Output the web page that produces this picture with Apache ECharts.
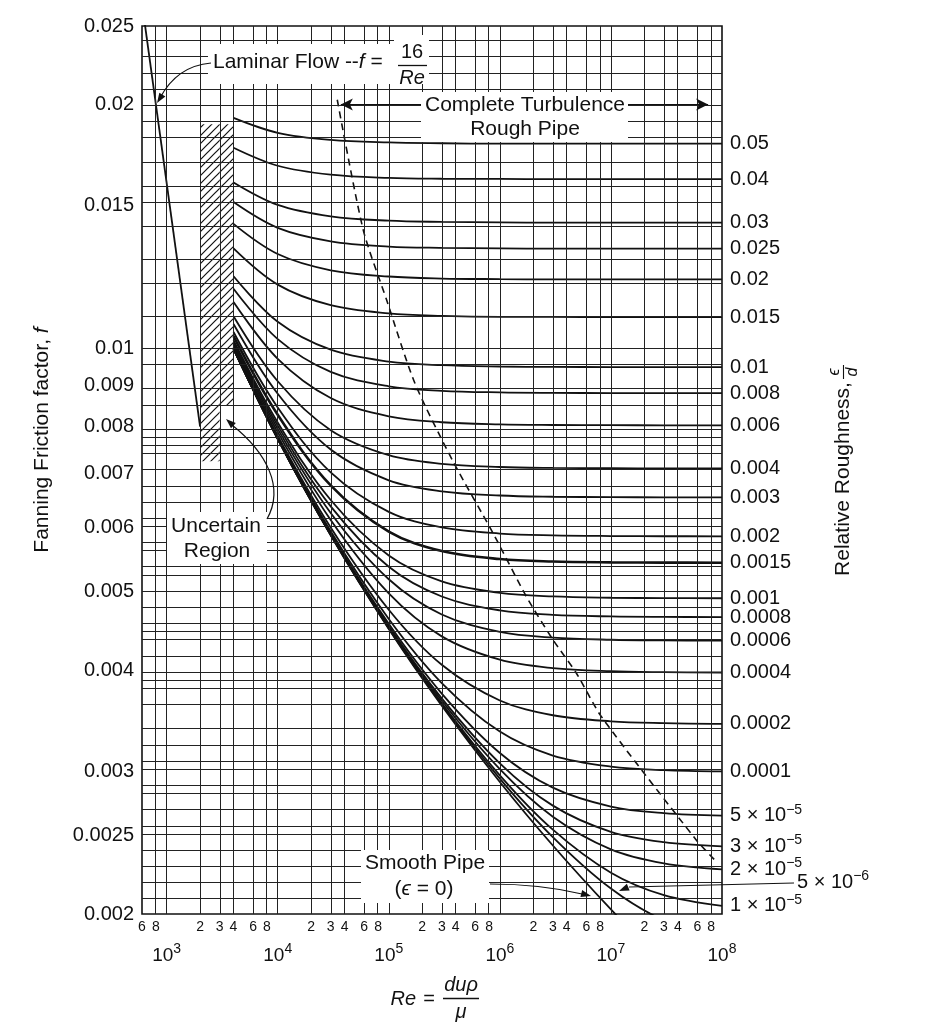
<!DOCTYPE html>
<html>
<head>
<meta charset="utf-8">
<script src="https://cdn.jsdelivr.net/npm/echarts@6.0.0/dist/echarts.min.js"></script>
<style>
html,body{margin:0;padding:0;background:#ffffff;}
#chart{width:941px;height:1024px;}
</style>
</head>
<body>
<div id="chart"></div>
<script>
// ================= DATA =================
// Reynolds numbers at which every roughness curve was read
const reGrid = [4e3, 1e4, 3e4, 1e5, 3e5, 1e6, 3e6, 1e7, 3e7, 1e8];

// Fanning friction factor for each relative roughness (same order as reGrid)
const f_0_05   = [0.01925, 0.01845, 0.01808, 0.01795, 0.01791, 0.01789, 0.01789, 0.01789, 0.01789, 0.01789];
const f_0_04   = [0.01768, 0.01680, 0.01638, 0.01623, 0.01619, 0.01618, 0.01617, 0.01617, 0.01617, 0.01617];
const f_0_03   = [0.01602, 0.01503, 0.01455, 0.01437, 0.01432, 0.01430, 0.01429, 0.01429, 0.01429, 0.01429];
const f_0_025  = [0.01515, 0.01408, 0.01355, 0.01335, 0.01330, 0.01328, 0.01327, 0.01327, 0.01327, 0.01327];
const f_0_02   = [0.01424, 0.01307, 0.01248, 0.01226, 0.01219, 0.01217, 0.01216, 0.01216, 0.01216, 0.01216];
const f_0_015  = [0.01328, 0.01198, 0.01130, 0.01104, 0.01096, 0.01093, 0.01093, 0.01092, 0.01092, 0.01092];
const f_0_01   = [0.01227, 0.01078, 0.009956, 0.009626, 0.009527, 0.009491, 0.009481, 0.009477, 0.009476, 0.009476];
const f_0_008  = [0.01184, 0.01026, 0.009347, 0.008972, 0.008858, 0.008817, 0.008805, 0.008801, 0.008800, 0.008799];
const f_0_006  = [0.01140, 0.009701, 0.008677, 0.008238, 0.008100, 0.008051, 0.008037, 0.008032, 0.008030, 0.008029];
const f_0_004  = [0.01095, 0.009102, 0.007919, 0.007375, 0.007197, 0.007132, 0.007113, 0.007107, 0.007105, 0.007104];
const f_0_003  = [0.01071, 0.008783, 0.007494, 0.006867, 0.006656, 0.006576, 0.006553, 0.006546, 0.006543, 0.006542];
const f_0_002  = [0.01047, 0.008448, 0.007024, 0.006277, 0.006006, 0.005902, 0.005871, 0.005860, 0.005857, 0.005856];
const f_0_0015 = [0.01035, 0.008274, 0.006767, 0.005934, 0.005616, 0.005489, 0.005451, 0.005438, 0.005434, 0.005432];
const f_0_001  = [0.01023, 0.008096, 0.006492, 0.005544, 0.005151, 0.004986, 0.004935, 0.004917, 0.004912, 0.004910];
const f_0_0008 = [0.01018, 0.008022, 0.006376, 0.005369, 0.004934, 0.004744, 0.004683, 0.004662, 0.004656, 0.004654];
const f_0_0006 = [0.01013, 0.007949, 0.006257, 0.005182, 0.004688, 0.004462, 0.004390, 0.004363, 0.004355, 0.004352];
const f_0_0004 = [0.01008, 0.007874, 0.006132, 0.004977, 0.004405, 0.004122, 0.004025, 0.003989, 0.003979, 0.003975];
const f_0_0002 = [0.01003, 0.007797, 0.006004, 0.004752, 0.004063, 0.003671, 0.003520, 0.003460, 0.003442, 0.003435];
const f_0_0001 = [0.01000, 0.007761, 0.005939, 0.004629, 0.003858, 0.003360, 0.003139, 0.003042, 0.003011, 0.003000];
const f_5e_5   = [0.009988, 0.007739, 0.005906, 0.004565, 0.003744, 0.003162, 0.002865, 0.002715, 0.002664, 0.002645];
const f_3e_5   = [0.009985, 0.007734, 0.005890, 0.004537, 0.003693, 0.003070, 0.002722, 0.002526, 0.002453, 0.002424];
const f_2e_5   = [0.009983, 0.007731, 0.005885, 0.004524, 0.003668, 0.003020, 0.002638, 0.002404, 0.002310, 0.002271];
const f_1e_5   = [0.009981, 0.007727, 0.005879, 0.004510, 0.003642, 0.002967, 0.002542, 0.002249, 0.002110, 0.002047];
const f_5e_6   = [0.009980, 0.007724, 0.005875, 0.004504, 0.003629, 0.002940, 0.002489, 0.002150, 0.001964, 0.001868];
const f_smooth = [0.009979, 0.007721, 0.005872, 0.004498, 0.003616, 0.002911, 0.002430, 0.002026, 0.001737, 0.001485];

// right-hand labels (relative roughness), '^' marks a superscript
const roughnessLabels = ['0.05', '0.04', '0.03', '0.025', '0.02', '0.015', '0.01', '0.008', '0.006',
  '0.004', '0.003', '0.002', '0.0015', '0.001', '0.0008', '0.0006', '0.0004', '0.0002', '0.0001',
  '5 × 10^−5', '3 × 10^−5', '2 × 10^−5', '1 × 10^−5', '5 × 10^−6', 'smooth'];
const roughnessCurves = [f_0_05, f_0_04, f_0_03, f_0_025, f_0_02, f_0_015, f_0_01, f_0_008, f_0_006,
  f_0_004, f_0_003, f_0_002, f_0_0015, f_0_001, f_0_0008, f_0_0006, f_0_0004, f_0_0002, f_0_0001,
  f_5e_5, f_3e_5, f_2e_5, f_1e_5, f_5e_6, f_smooth];

// laminar flow line f = 16/Re
const laminarRe = [600, 2000];
const laminarF = [0.02667, 0.008];

// dashed "complete turbulence" boundary
const turbRe = [34370, 58840, 95500, 171600, 379100, 867500, 1731000, 3002000, 4873000, 8177000, 58380000, 88900000];
const turbF  = [0.02027, 0.01400, 0.011476, 0.009055, 0.007245, 0.005910, 0.004935, 0.004364, 0.003970, 0.003509, 0.002471, 0.002321];

// hatched uncertain region
const hatchRe = [2000, 3000, 4000];
const hatchTopF = 0.0189;
const hatchBottomF = [0.00725, 0.0085];

// "complete turbulence" double arrow
const turbArrowRe = [3.7e4, 7.5e7];
const turbArrowF = 0.02;

// axis extents
const reMin = 600, reMax = 1e8;
const fMin = 0.002, fMax = 0.025;

// grid lines
const xGridRe = [800, 1e3, 2e3, 3e3, 4e3, 6e3, 8e3, 1e4, 2e4, 3e4, 4e4, 6e4, 8e4, 1e5, 2e5, 3e5, 4e5, 6e5, 8e5,
  1e6, 2e6, 3e6, 4e6, 6e6, 8e6, 1e7, 2e7, 3e7, 4e7, 6e7, 8e7];
const yGridF = [0.0021, 0.0022, 0.0023, 0.0024, 0.0025, 0.0026, 0.0027, 0.0028, 0.0029, 0.003, 0.0031, 0.0032,
  0.0034, 0.0036, 0.0038, 0.0039, 0.004, 0.0042, 0.0044, 0.0045, 0.0046, 0.0048, 0.005, 0.0052, 0.0054, 0.0056,
  0.0058, 0.006, 0.0062, 0.0065, 0.0068, 0.007, 0.0074, 0.0076, 0.0078, 0.008, 0.0085, 0.009, 0.0095, 0.01,
  0.011, 0.012, 0.013, 0.014, 0.015, 0.016, 0.017, 0.018, 0.019, 0.02, 0.021, 0.022, 0.023, 0.024];

// tick labels
const xMinorRe = [600, 800, 2e3, 3e3, 4e3, 6e3, 8e3, 2e4, 3e4, 4e4, 6e4, 8e4, 2e5, 3e5, 4e5, 6e5, 8e5,
  2e6, 3e6, 4e6, 6e6, 8e6, 2e7, 3e7, 4e7, 6e7, 8e7];
const xMinorText = ['6', '8', '2', '3', '4', '6', '8', '2', '3', '4', '6', '8', '2', '3', '4', '6', '8',
  '2', '3', '4', '6', '8', '2', '3', '4', '6', '8'];
const xMajorRe = [1e3, 1e4, 1e5, 1e6, 1e7, 1e8];
const xMajorExp = ['3', '4', '5', '6', '7', '8'];
const yLabelF = [0.002, 0.0025, 0.003, 0.004, 0.005, 0.006, 0.007, 0.008, 0.009, 0.01, 0.015, 0.02, 0.025];
const yLabelText = ['0.002', '0.0025', '0.003', '0.004', '0.005', '0.006', '0.007', '0.008', '0.009', '0.01', '0.015', '0.02', '0.025'];

// ================= CHART =================
const FONT = '"Liberation Sans", Arial, Helvetica, sans-serif';
const INK = '#111111';
const L = v => Math.log10(v);

function lookup(values, texts, v) {
  for (let i = 0; i < values.length; i++) {
    if (Math.abs(L(values[i]) - v) < 1e-6) return texts[i];
  }
  return '';
}
function fmtSup(s) {
  const k = s.indexOf('^');
  return k < 0 ? s : s.slice(0, k) + '{s|' + s.slice(k + 1) + '}';
}

// hatch pattern
const pc = document.createElement('canvas');
pc.width = 8; pc.height = 8;
const pg = pc.getContext('2d');
pg.strokeStyle = '#111';
pg.lineWidth = 1.2;
pg.beginPath();
pg.moveTo(0, 8); pg.lineTo(8, 0);
pg.moveTo(-2, 2); pg.lineTo(2, -2);
pg.moveTo(6, 10); pg.lineTo(10, 6);
pg.stroke();

const series = [];

// grid lines
series.push({
  type: 'line', name: 'grid', data: [[L(reMin), L(fMin)]], symbol: 'none', silent: true, z: 1,
  lineStyle: { opacity: 0 },
  markLine: {
    silent: true, symbol: ['none', 'none'], animation: false,
    label: { show: false },
    emphasis: { disabled: true },
    lineStyle: { color: '#222222', width: 1, type: 'solid', opacity: 1 },
    data: xGridRe.map(r => ({ xAxis: L(r) })).concat(yGridF.map(f => ({ yAxis: L(f) })))
  }
});

// roughness curves
roughnessCurves.forEach((arr, idx) => {
  const name = roughnessLabels[idx];
  const labelled = idx < 23;
  series.push({
    type: 'line', name: name, z: 3, silent: true,
    data: reGrid.map((r, i) => [L(r), L(arr[i])]),
    smooth: 0.35, symbol: 'none', clip: true,
    lineStyle: { color: INK, width: name === '0.0015' ? 2.6 : 1.8 },
    emphasis: { disabled: true },
    endLabel: {
      show: labelled, distance: 8, color: INK, fontSize: 20, fontFamily: FONT, lineHeight: 26,
      formatter: p => fmtSup(p.seriesName),
      rich: { s: { fontSize: 14, lineHeight: 14, verticalAlign: 'top', fontFamily: FONT, color: INK } }
    }
  });
});

// laminar line + hatched uncertain region
series.push({
  type: 'line', name: 'laminar', z: 3, silent: true, clip: true, symbol: 'none',
  data: laminarRe.map((r, i) => [L(r), L(laminarF[i])]),
  lineStyle: { color: INK, width: 1.8 },
  emphasis: { disabled: true },
  markArea: {
    silent: true, animation: false,
    itemStyle: { color: { image: pc, repeat: 'repeat' }, borderWidth: 0 },
    data: [
      [{ coord: [L(hatchRe[0]), L(hatchTopF)] }, { coord: [L(hatchRe[1]), L(hatchBottomF[0])] }],
      [{ coord: [L(hatchRe[1]), L(hatchTopF)] }, { coord: [L(hatchRe[2]), L(hatchBottomF[1])] }]
    ]
  }
});

// dashed complete-turbulence boundary + double arrow
series.push({
  type: 'line', name: 'turb', z: 3, silent: true, clip: true, symbol: 'none', smooth: 0.25,
  data: turbRe.map((r, i) => [L(r), L(turbF[i])]),
  lineStyle: { color: INK, width: 1.6, type: [7, 5] },
  emphasis: { disabled: true },
  markLine: {
    silent: true, animation: false, symbol: ['arrow', 'arrow'], symbolSize: [9, 12],
    label: { show: false }, emphasis: { disabled: true },
    lineStyle: { color: INK, width: 1.2, type: 'solid' },
    data: [[{ coord: [L(turbArrowRe[0]), L(turbArrowF)] }, { coord: [L(turbArrowRe[1]), L(turbArrowF)] }]]
  }
});

// ================= ANNOTATIONS (graphic) =================
const G = [];
function rect(x, y, w, h) {
  G.push({ type: 'rect', z: 100, silent: true, shape: { x, y, width: w, height: h }, style: { fill: '#ffffff' } });
}
function text(x, y, t, o) {
  o = o || {};
  const al = o.align || 'center';
  const st = {
    text: t, fill: INK,
    font: (o.italic ? 'italic ' : '') + (o.size || 21) + 'px ' + FONT,
    align: al, verticalAlign: 'middle', textAlign: al, textVerticalAlign: 'middle'
  };
  if (o.rich) st.rich = o.rich;
  if (o.lineHeight) st.lineHeight = o.lineHeight;
  return { type: 'text', z: 102, silent: true, x, y, rotation: o.rot || 0, style: st };
}
function seg(x1, y1, x2, y2, w) {
  return { type: 'line', z: 102, silent: true, shape: { x1, y1, x2, y2 }, style: { stroke: INK, lineWidth: w || 1.3 } };
}
function head(tx, ty, fx, fy, len, half) {
  len = len || 10; half = half || 3.6;
  const dx = tx - fx, dy = ty - fy, d = Math.hypot(dx, dy);
  const ux = dx / d, uy = dy / d;
  const bx = tx - ux * len, by = ty - uy * len;
  return { type: 'polygon', z: 103, silent: true,
    shape: { points: [[tx, ty], [bx - uy * half, by + ux * half], [bx + uy * half, by - ux * half]] },
    style: { fill: INK } };
}
function curve(shape) {
  return { type: 'bezierCurve', z: 102, silent: true, shape, style: { stroke: INK, lineWidth: 1.2, fill: null } };
}
const italicRich = { i: { font: 'italic 21px ' + FONT } };
const supRich = { s: { font: '14px ' + FONT, verticalAlign: 'top', lineHeight: 14 } };

// Laminar flow label
rect(208, 44, 221, 40);
rect(394, 35, 35, 10);
G.push(text(213, 62, 'Laminar Flow --{i|f} =', { align: 'left', rich: italicRich }));
G.push(text(412, 52, '16', { size: 20 }));
G.push(seg(398, 65.5, 427, 65.5, 1.3));
G.push(text(412, 78, 'Re', { size: 20, italic: true }));
G.push(curve({ x1: 211, y1: 63, cpx1: 177, cpy1: 66, x2: 160, y2: 98 }));
G.push(head(157, 103, 164, 92, 10, 3.6));

// Complete turbulence label
rect(421, 92, 207, 50);
G.push(text(525, 105, 'Complete Turbulence'));
G.push(text(525, 129, 'Rough Pipe'));

// Uncertain region label
rect(167, 512, 100, 52);
G.push(text(216, 526, 'Uncertain'));
G.push(text(217, 551, 'Region'));
G.push(curve({ x1: 267, y1: 519, cpx1: 285, cpy1: 487, cpx2: 266, cpy2: 452, x2: 232, y2: 425 }));
G.push(head(226, 419, 236, 428, 10, 3.6));

// Smooth pipe label
rect(361, 850, 128, 53);
G.push(text(425, 863, 'Smooth Pipe'));
G.push(text(424, 889, '({i|ϵ} = 0)', { rich: italicRich }));
G.push(curve({ x1: 490, y1: 884, cpx1: 540, cpy1: 884, x2: 582, y2: 894 }));
G.push(head(591, 896, 579, 893, 10, 3.6));

// 5 x 10^-6 label with leader
G.push(seg(794, 883, 629, 887, 1.2));
G.push(head(619, 891, 631, 886, 10, 3.6));
G.push(text(797, 882, '5 × 10{s|−6}', { align: 'left', size: 20, lineHeight: 26, rich: supRich }));

// x axis title  Re = du rho / mu
G.push(text(416, 999, 'Re', { align: 'right', size: 20, italic: true }));
G.push(text(429, 999, '=', { size: 20 }));
G.push(text(461, 985, 'duρ', { size: 20, italic: true }));
G.push(seg(443, 998.5, 479, 998.5, 1.3));
G.push(text(461, 1012, 'μ', { size: 20, italic: true }));

// left axis title
G.push(text(42, 440, 'Fanning Friction factor, {i|f}', { rot: Math.PI / 2, rich: italicRich }));

// right axis title
G.push({
  type: 'group', x: 843, y: 471, rotation: Math.PI / 2, z: 102,
  children: [
    text(-8, 0, 'Relative Roughness,'),
    text(99, -8, 'ϵ', { size: 16, italic: true }),
    seg(92, 0.5, 106, 0.5, 1.1),
    text(99, 10, 'd', { size: 16, italic: true })
  ]
});

const option = {
  animation: false,
  backgroundColor: '#ffffff',
  textStyle: { fontFamily: FONT, color: INK },
  grid: {
    left: 142, top: 26, width: 580, height: 888,
    show: true, borderColor: INK, borderWidth: 1.6, backgroundColor: 'transparent',
    containLabel: false, outerBoundsMode: 'none'
  },
  xAxis: [
    {
      type: 'value', position: 'bottom', offset: 0, min: L(reMin), max: L(reMax),
      axisLine: { show: false }, axisTick: { show: false }, splitLine: { show: false },
      axisLabel: {
        customValues: xMinorRe.map(L), margin: 6, fontSize: 14, color: INK, fontFamily: FONT,
        formatter: v => lookup(xMinorRe, xMinorText, v)
      }
    },
    {
      type: 'value', position: 'bottom', offset: 0, min: L(reMin), max: L(reMax),
      axisLine: { show: false }, axisTick: { show: false }, splitLine: { show: false },
      axisLabel: {
        customValues: xMajorRe.map(L), margin: 28, color: INK, fontFamily: FONT, fontSize: 19, lineHeight: 28,
        formatter: v => '10{s|' + lookup(xMajorRe, xMajorExp, v) + '}',
        rich: { s: { fontSize: 14, lineHeight: 14, verticalAlign: 'top', fontFamily: FONT, color: INK } }
      }
    }
  ],
  yAxis: [{
    type: 'value', min: L(fMin), max: L(fMax),
    axisLine: { show: false }, axisTick: { show: false }, splitLine: { show: false },
    axisLabel: {
      customValues: yLabelF.map(L), margin: 8, fontSize: 20, color: INK, fontFamily: FONT,
      formatter: v => lookup(yLabelF, yLabelText, v)
    }
  }],
  series: series,
  graphic: { elements: G }
};

const chart = echarts.init(document.getElementById('chart'), null, { renderer: 'canvas' });
chart.setOption(option);
</script>
</body>
</html>
